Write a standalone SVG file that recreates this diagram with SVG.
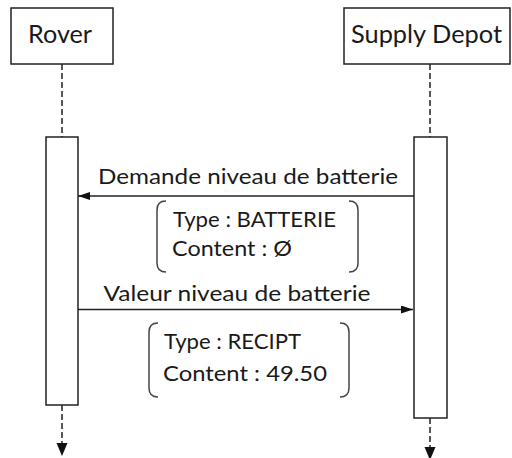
<svg xmlns="http://www.w3.org/2000/svg" width="512" height="458" viewBox="0 0 512 458">
<style>
.box{fill:#fff;stroke:#222;stroke-width:1.5}
.life{stroke:#222;stroke-width:1.5;stroke-dasharray:6 3;fill:none}
.msg{stroke:#222;stroke-width:1.5;fill:none}
.br{stroke:#444;stroke-width:1.5;fill:none}
.head{fill:#111}
text{font-family:Lato,"Open Sans","Liberation Sans",sans-serif;fill:#1a1a1a}
.t{font-size:25px}
.m{font-size:22px}
</style>
<defs>
<marker id="ah" viewBox="0 0 12 8" refX="12" refY="4" markerWidth="12" markerHeight="8" markerUnits="userSpaceOnUse" orient="auto">
<path d="M0,0 L12,4 L0,8 Z" fill="#111"/>
</marker>
</defs>
<g id="rover">
<rect class="box" x="11" y="8" width="102" height="56"/>
<text class="t" x="28" y="42.5" textLength="64" lengthAdjust="spacingAndGlyphs">Rover</text>
<line class="life" x1="62" y1="64" x2="62" y2="137"/>
<rect class="box" x="46" y="137" width="32" height="268"/>
<line class="life" x1="62" y1="405" x2="62" y2="443"/>
<path class="head" d="M56.5,443 L67.5,443 L62,456 Z"/>
</g>
<g id="supply">
<rect class="box" x="344" y="8" width="166" height="56"/>
<text class="t" x="351" y="43" textLength="151" lengthAdjust="spacingAndGlyphs">Supply Depot</text>
<line class="life" x1="430" y1="64" x2="430" y2="137"/>
<rect class="box" x="414" y="137" width="33" height="281"/>
<line class="life" x1="430" y1="418" x2="430" y2="448"/>
<path class="head" d="M424.5,447 L435.5,447 L430,460 Z"/>
</g>
<g id="connectors">
<line class="msg" x1="414" y1="196" x2="78" y2="196" marker-end="url(#ah)"/>
<text class="m" x="98" y="184" textLength="300" lengthAdjust="spacingAndGlyphs">Demande niveau de batterie</text>
<line class="msg" x1="78" y1="309.5" x2="413" y2="309.5" marker-end="url(#ah)"/>
<text class="m" x="103.5" y="300.5" textLength="267" lengthAdjust="spacingAndGlyphs">Valeur niveau de batterie</text>
</g>
<g id="note1">
<path class="br" d="M166,201 Q157,201 157,210 L157,263 Q157,272 166,272"/>
<path class="br" d="M349,201 Q358,201 358,210 L358,263 Q358,272 349,272"/>
<text class="m" x="173" y="227" textLength="163" lengthAdjust="spacingAndGlyphs">Type : BATTERIE</text>
<text class="m" x="172" y="256" textLength="120" lengthAdjust="spacingAndGlyphs">Content : Ø</text>
</g>
<g id="note2">
<path class="br" d="M158,323 Q149,323 149,332 L149,388 Q149,397 158,397"/>
<path class="br" d="M340,323 Q349,323 349,332 L349,388 Q349,397 340,397"/>
<text class="m" x="164" y="349" textLength="137" lengthAdjust="spacingAndGlyphs">Type : RECIPT</text>
<text class="m" x="163" y="381" textLength="164" lengthAdjust="spacingAndGlyphs">Content : 49.50</text>
</g>
</svg>
